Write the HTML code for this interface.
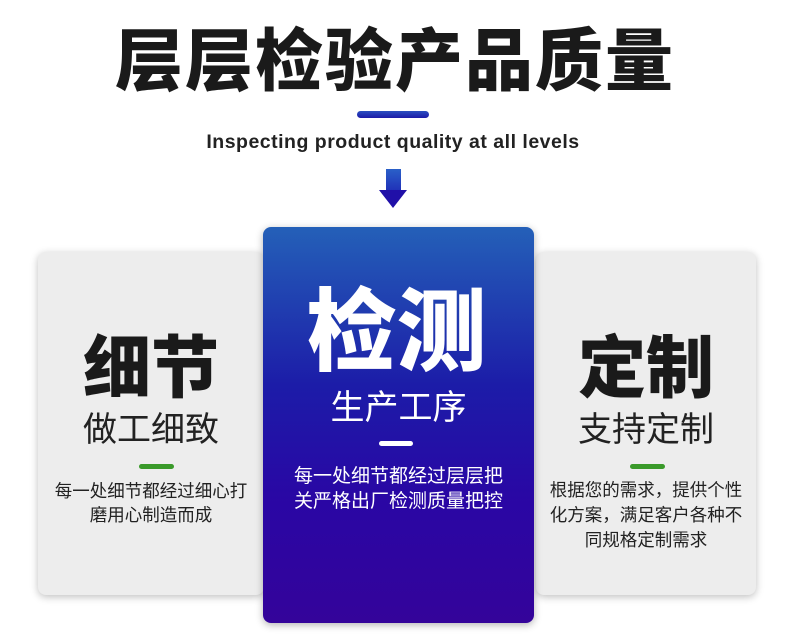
<!DOCTYPE html>
<html><head><meta charset="utf-8"><style>
body{margin:0;width:790px;height:644px;background:#fff;position:relative;overflow:hidden;font-family:"Liberation Sans","Noto Sans CJK SC",sans-serif}
.a{position:absolute}
.t{position:absolute;left:0;width:790px;text-align:center}
.card{position:absolute;background:#ededed;border-radius:8px;box-shadow:0 2px 8px rgba(0,0,0,.25)}
.c{position:absolute;left:0;right:0;text-align:center;white-space:nowrap}
</style></head><body>
<div class="t" style="top:22px;font-size:68px;font-weight:900;color:#1a1a1a;line-height:80px;letter-spacing:2px;">层层检验产品质量</div>
<div class="a" style="left:357px;top:111px;width:72px;height:7px;border-radius:4px;background:linear-gradient(#2a4fc0,#1c1aa8)"></div>
<div class="t" style="top:131px;font-size:19.5px;font-weight:bold;color:#222;letter-spacing:0.5px;padding-left:0px;box-sizing:border-box;width:786px">Inspecting product quality at all levels</div>
<div class="a" style="left:386px;top:169px;width:15px;height:22px;background:linear-gradient(#2a60c8,#2030b8)"></div>
<div class="a" style="left:379px;top:190px;width:0;height:0;border-left:14px solid transparent;border-right:14px solid transparent;border-top:18px solid #2010a8"></div>

<div class="card" style="left:38px;top:252px;width:226px;height:343px">
<div class="c" style="top:77px;font-size:68px;font-weight:900;color:#1a1a1a;line-height:80px">细节</div>
<div class="c" style="top:158px;font-size:34px;color:#222;line-height:40px">做工细致</div>
<div class="a" style="left:101px;top:212px;width:35px;height:5px;border-radius:3px;background:#3a9a2a"></div>
<div class="c" style="top:227px;font-size:17.5px;color:#222;line-height:24px">每一处细节都经过细心打<br>磨用心制造而成</div>
</div>
<div class="card" style="left:536px;top:252px;width:220px;height:343px">
<div class="c" style="top:77px;font-size:68px;font-weight:900;color:#1a1a1a;line-height:80px">定制</div>
<div class="c" style="top:158px;font-size:34px;color:#222;line-height:40px">支持定制</div>
<div class="a" style="left:94px;top:212px;width:35px;height:5px;border-radius:3px;background:#3a9a2a"></div>
<div class="c" style="top:226px;font-size:17.5px;color:#222;line-height:25px">根据您的需求，提供个性<br>化方案，满足客户各种不<br>同规格定制需求</div>
</div>
<div class="a" style="left:263px;top:227px;width:271px;height:396px;border-radius:8px;background:linear-gradient(#2460b8 0%,#1c1ca8 40%,#2a06a4 70%,#34049a 100%);box-shadow:0 2px 8px rgba(0,0,0,.3)">
<div class="c" style="top:56px;font-size:90px;font-weight:900;color:#fff;line-height:100px;margin-left:-4px">检测</div>
<div class="c" style="top:161px;font-size:34px;color:#fff;line-height:40px">生产工序</div>
<div class="a" style="left:116px;top:214px;width:34px;height:5px;border-radius:3px;background:#fff"></div>
<div class="c" style="top:237px;font-size:19px;color:#fff;line-height:25px">每一处细节都经过层层把<br>关严格出厂检测质量把控</div>
</div>
</body></html>
